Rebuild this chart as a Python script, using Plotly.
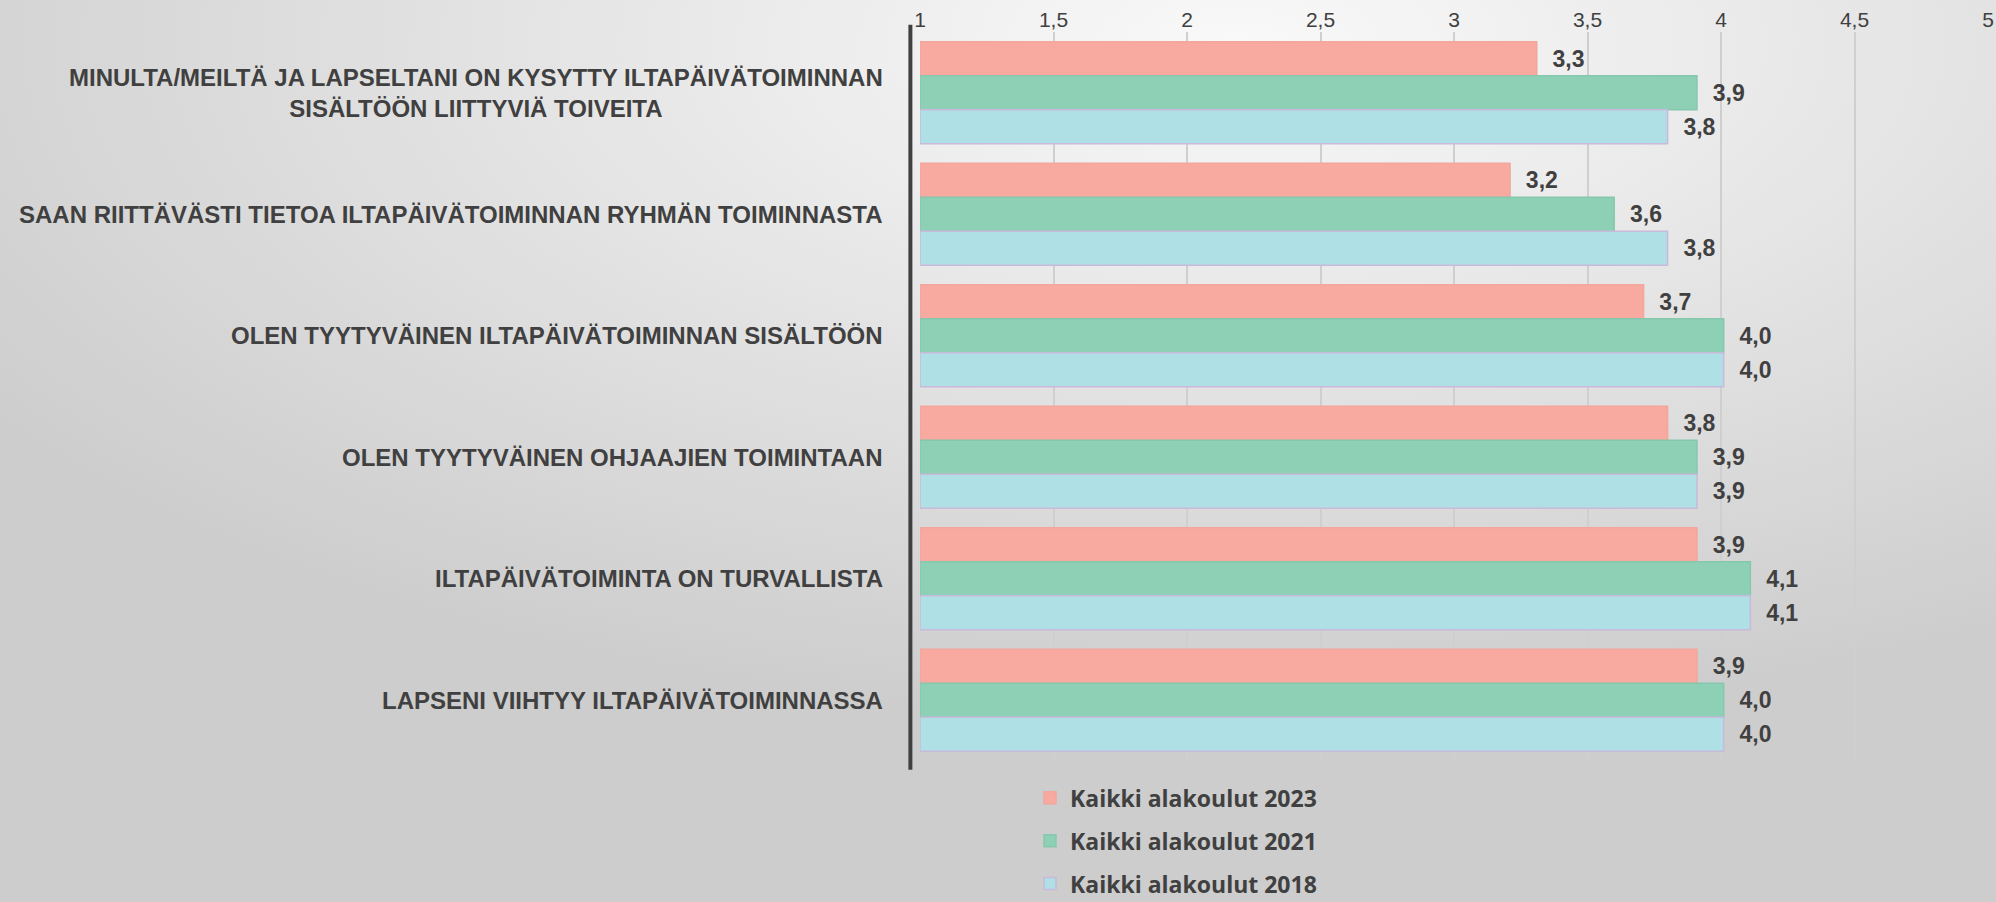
import plotly.graph_objects as go

categories = [
    "MINULTA/MEILTÄ JA LAPSELTANI ON KYSYTTY ILTAPÄIVÄTOIMINNAN<br>SISÄLTÖÖN LIITTYVIÄ TOIVEITA",
    "SAAN RIITTÄVÄSTI TIETOA ILTAPÄIVÄTOIMINNAN RYHMÄN TOIMINNASTA",
    "OLEN TYYTYVÄINEN ILTAPÄIVÄTOIMINNAN SISÄLTÖÖN",
    "OLEN TYYTYVÄINEN OHJAAJIEN TOIMINTAAN",
    "ILTAPÄIVÄTOIMINTA ON TURVALLISTA",
    "LAPSENI VIIHTYY ILTAPÄIVÄTOIMINNASSA",
]
series_names = ["Kaikki alakoulut 2023", "Kaikki alakoulut 2021", "Kaikki alakoulut 2018"]
values_2023 = [3.31, 3.21, 3.71, 3.80, 3.91, 3.91]
values_2021 = [3.91, 3.60, 4.01, 3.91, 4.11, 4.01]
values_2018 = [3.80, 3.80, 4.01, 3.91, 4.11, 4.01]
tick_vals = [1, 1.5, 2, 2.5, 3, 3.5, 4, 4.5, 5]
tick_text = ["1", "1,5", "2", "2,5", "3", "3,5", "4", "4,5", "5"]

colors = ["#F9AAA0", "#8DD0B6", "#AEE0E6"]
line_colors = ["#F2A69C", "#86C8AE", "#C9B9DA"]
series_values = [values_2023, values_2021, values_2018]

W, H = 1996, 902
ML, MR, MT, MB = 920, 8, 32, 141
PW = W - ML - MR
PH = H - MT - MB

FONT = "Liberation Sans, Arial, sans-serif"

fig = go.Figure()
ids = list(range(len(categories)))
for i, (name, vals) in enumerate(zip(series_names, series_values)):
    fig.add_trace(go.Bar(
        y=ids, x=[v - 1 for v in vals], base=1, orientation="h", name=name,
        marker=dict(color=colors[i], line=dict(color=line_colors[i], width=1.5)),
        customdata=vals,
        texttemplate="\u00a0\u00a0%{customdata:.1f}", textposition="outside",
        textfont=dict(family=FONT, size=23, color="#404040", weight="bold"),
        cliponaxis=False, legendgroup=name,
    ))

bg_svg = (
    "data:image/svg+xml;utf8,"
    "<svg xmlns='http://www.w3.org/2000/svg' width='1996' height='902' preserveAspectRatio='none'>"
    "<defs><radialGradient id='g' cx='0.62' cy='0.05' r='0.75'>"
    "<stop offset='0' stop-color='%23f9f9f9'/><stop offset='1' stop-color='%23cdcdcd'/>"
    "</radialGradient></defs><rect width='1996' height='902' fill='url(%23g)'/></svg>"
)

annotations = []
for i, c in enumerate(categories):
    annotations.append(dict(
        x=(885 - ML) / PW, xref="paper", xanchor="right",
        y=i, yref="y", yanchor="middle", text=c, showarrow=False, align="center",
        font=dict(family=FONT, size=24, color="#404040", weight="bold"),
    ))

fig.update_layout(
    width=W, height=H,
    margin=dict(l=ML, r=MR, t=MT, b=MB, autoexpand=False),
    paper_bgcolor="#dcdcdc", plot_bgcolor="rgba(0,0,0,0)",
    barmode="group", bargap=0.16, bargroupgap=0,
    separators=", ",
    images=[dict(source=bg_svg, xref="paper", yref="paper", x=-ML / PW, y=1 + MT / PH,
                 sizex=W / PW, sizey=H / PH, xanchor="left", yanchor="top",
                 sizing="stretch", layer="below")],
    xaxis=dict(range=[1, 5], side="top", tickvals=tick_vals, ticktext=tick_text,
               showgrid=True, gridcolor="#cfcfcf", gridwidth=1.5, zeroline=False,
               tickfont=dict(family=FONT, size=21, color="#404040"),
               ticks=""),
    yaxis=dict(autorange="reversed", showticklabels=False, showgrid=False, zeroline=False, ticks=""),
    legend=dict(x=(1030 - ML) / PW, xanchor="left", y=-0.021,
                yanchor="top", orientation="v", tracegroupgap=10, bgcolor="rgba(0,0,0,0)",
                font=dict(family="Open Sans, sans-serif", size=23, color="#404040", weight="bold")),
    annotations=annotations,
    shapes=[dict(type="line", xref="paper", yref="paper", x0=-0.009, x1=-0.009, y0=1.01, y1=-0.012,
                 line=dict(color="#404040", width=4))],
    showlegend=True,
)

fig.write_html("out.html", config={"displayModeBar": False},
               post_script="document.body.style.margin='0';")
